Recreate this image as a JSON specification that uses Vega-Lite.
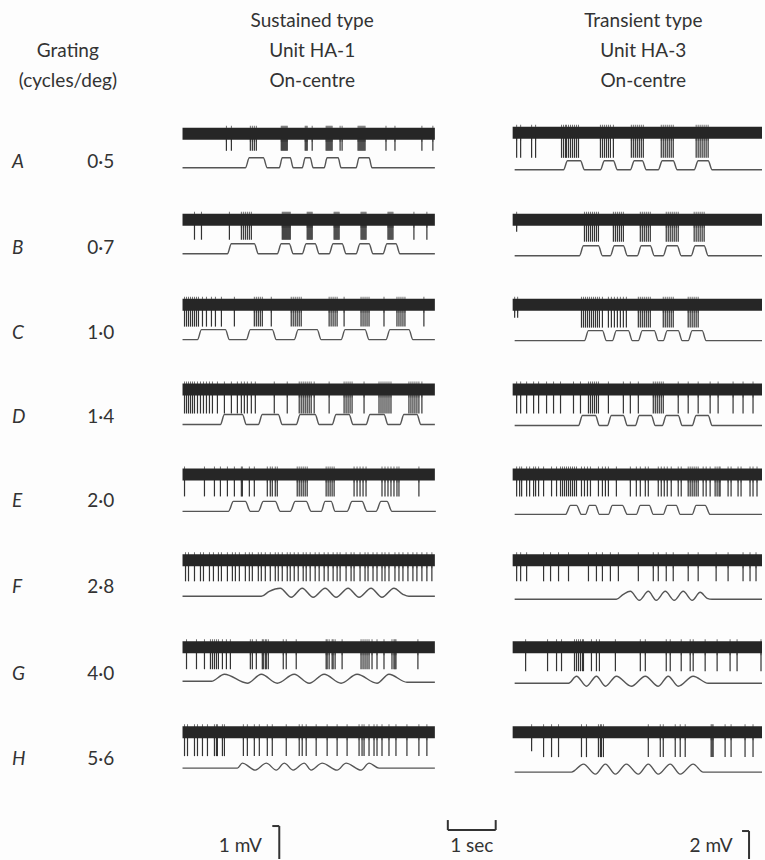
{
"$schema": "https://vega.github.io/schema/vega-lite/v6.json",
"width": 765, "height": 860,
"autosize": {"type": "fit", "contains": "padding"},
"padding": 0,
"background": "#fdfdfd",
"config": {"view": {"stroke": null}},
"datasets": {
"bands": [
{"x":183,"x2":436,"y":128,"y2":140},{"x":514,"x2":764,"y":127,"y2":139},
{"x":183,"x2":436,"y":214,"y2":226},{"x":514,"x2":764,"y":214,"y2":226},
{"x":183,"x2":436,"y":299,"y2":311},{"x":514,"x2":764,"y":299,"y2":311},
{"x":183,"x2":436,"y":384,"y2":396},{"x":514,"x2":764,"y":384,"y2":396},
{"x":183,"x2":436,"y":469,"y2":481},{"x":514,"x2":764,"y":469,"y2":481},
{"x":183,"x2":436,"y":555,"y2":567},{"x":514,"x2":764,"y":555,"y2":567},
{"x":183,"x2":436,"y":642,"y2":654},{"x":514,"x2":764,"y":642,"y2":654},
{"x":183,"x2":436,"y":727,"y2":739},{"x":514,"x2":764,"y":727,"y2":739}
],
"spikes": [
{"x":227,"y":134,"t":151},{"x":232,"y":134,"t":151},{"x":251,"y":134,"t":151},{"x":253,"y":134,"t":151},{"x":255,"y":134,"t":151},{"x":257,"y":134,"t":151},{"x":282,"y":134,"t":151},{"x":283,"y":134,"t":151},{"x":284,"y":134,"t":151},{"x":285,"y":134,"t":151},{"x":286,"y":134,"t":151},{"x":287,"y":134,"t":151},{"x":288,"y":134,"t":151},{"x":306,"y":134,"t":151},{"x":307,"y":134,"t":151},{"x":308,"y":134,"t":151},{"x":313,"y":134,"t":151},{"x":327,"y":134,"t":151},{"x":328,"y":134,"t":151},{"x":329,"y":134,"t":151},{"x":330,"y":134,"t":151},{"x":331,"y":134,"t":151},{"x":332,"y":134,"t":151},{"x":333,"y":134,"t":151},{"x":341,"y":134,"t":151},{"x":343,"y":134,"t":151},{"x":359,"y":134,"t":151},{"x":360,"y":134,"t":151},{"x":361,"y":134,"t":151},{"x":362,"y":134,"t":151},{"x":363,"y":134,"t":151},{"x":364,"y":134,"t":151},{"x":365,"y":134,"t":151},{"x":366,"y":134,"t":151},{"x":387,"y":134,"t":151},{"x":396,"y":134,"t":151},{"x":423,"y":134,"t":151},{"x":434,"y":134,"t":151},
{"x":518,"y":133,"t":158},{"x":522,"y":133,"t":158},{"x":533,"y":133,"t":158},{"x":537,"y":133,"t":158},{"x":563,"y":133,"t":158},{"x":565,"y":133,"t":158},{"x":567,"y":133,"t":158},{"x":568,"y":133,"t":158},{"x":570,"y":133,"t":158},{"x":572,"y":133,"t":158},{"x":574,"y":133,"t":158},{"x":576,"y":133,"t":158},{"x":578,"y":133,"t":158},{"x":580,"y":133,"t":158},{"x":602,"y":133,"t":158},{"x":604,"y":133,"t":158},{"x":606,"y":133,"t":158},{"x":608,"y":133,"t":158},{"x":610,"y":133,"t":158},{"x":612,"y":133,"t":158},{"x":615,"y":133,"t":158},{"x":633,"y":133,"t":158},{"x":635,"y":133,"t":158},{"x":637,"y":133,"t":158},{"x":639,"y":133,"t":158},{"x":641,"y":133,"t":158},{"x":643,"y":133,"t":158},{"x":645,"y":133,"t":158},{"x":663,"y":133,"t":158},{"x":665,"y":133,"t":158},{"x":667,"y":133,"t":158},{"x":669,"y":133,"t":158},{"x":671,"y":133,"t":158},{"x":673,"y":133,"t":158},{"x":675,"y":133,"t":158},{"x":698,"y":133,"t":158},{"x":700,"y":133,"t":158},{"x":702,"y":133,"t":158},{"x":704,"y":133,"t":158},{"x":706,"y":133,"t":158},{"x":708,"y":133,"t":158},{"x":710,"y":133,"t":158},
{"x":195,"y":220,"t":240},{"x":202,"y":220,"t":240},{"x":230,"y":220,"t":240},{"x":242,"y":220,"t":240},{"x":244,"y":220,"t":240},{"x":246,"y":220,"t":240},{"x":248,"y":220,"t":240},{"x":250,"y":220,"t":240},{"x":252,"y":220,"t":240},{"x":283,"y":220,"t":240},{"x":284,"y":220,"t":240},{"x":285,"y":220,"t":240},{"x":286,"y":220,"t":240},{"x":287,"y":220,"t":240},{"x":288,"y":220,"t":240},{"x":289,"y":220,"t":240},{"x":290,"y":220,"t":240},{"x":291,"y":220,"t":240},{"x":308,"y":220,"t":240},{"x":309,"y":220,"t":240},{"x":310,"y":220,"t":240},{"x":311,"y":220,"t":240},{"x":312,"y":220,"t":240},{"x":313,"y":220,"t":240},{"x":335,"y":220,"t":240},{"x":336,"y":220,"t":240},{"x":337,"y":220,"t":240},{"x":338,"y":220,"t":240},{"x":339,"y":220,"t":240},{"x":340,"y":220,"t":240},{"x":362,"y":220,"t":240},{"x":363,"y":220,"t":240},{"x":364,"y":220,"t":240},{"x":365,"y":220,"t":240},{"x":366,"y":220,"t":240},{"x":367,"y":220,"t":240},{"x":389,"y":220,"t":240},{"x":390,"y":220,"t":240},{"x":391,"y":220,"t":240},{"x":392,"y":220,"t":240},{"x":393,"y":220,"t":240},{"x":394,"y":220,"t":240},{"x":415,"y":220,"t":240},{"x":428,"y":220,"t":240},
{"x":518,"y":220,"t":232},{"x":586,"y":220,"t":242},{"x":588,"y":220,"t":242},{"x":590,"y":220,"t":242},{"x":592,"y":220,"t":242},{"x":594,"y":220,"t":242},{"x":596,"y":220,"t":242},{"x":598,"y":220,"t":242},{"x":600,"y":220,"t":242},{"x":615,"y":220,"t":242},{"x":617,"y":220,"t":242},{"x":619,"y":220,"t":242},{"x":621,"y":220,"t":242},{"x":623,"y":220,"t":242},{"x":625,"y":220,"t":242},{"x":642,"y":220,"t":242},{"x":644,"y":220,"t":242},{"x":646,"y":220,"t":242},{"x":648,"y":220,"t":242},{"x":650,"y":220,"t":242},{"x":652,"y":220,"t":242},{"x":668,"y":220,"t":242},{"x":670,"y":220,"t":242},{"x":672,"y":220,"t":242},{"x":674,"y":220,"t":242},{"x":676,"y":220,"t":242},{"x":678,"y":220,"t":242},{"x":680,"y":220,"t":242},{"x":696,"y":220,"t":242},{"x":698,"y":220,"t":242},{"x":700,"y":220,"t":242},{"x":702,"y":220,"t":242},{"x":704,"y":220,"t":242},{"x":706,"y":220,"t":242},
{"x":185,"y":305,"t":327},{"x":187,"y":305,"t":327},{"x":189,"y":305,"t":327},{"x":191,"y":305,"t":327},{"x":193,"y":305,"t":327},{"x":195,"y":305,"t":327},{"x":197,"y":305,"t":327},{"x":199,"y":305,"t":327},{"x":203,"y":305,"t":327},{"x":207,"y":305,"t":327},{"x":212,"y":305,"t":327},{"x":216,"y":305,"t":327},{"x":222,"y":305,"t":327},{"x":235,"y":305,"t":327},{"x":255,"y":305,"t":327},{"x":257,"y":305,"t":327},{"x":259,"y":305,"t":327},{"x":261,"y":305,"t":327},{"x":263,"y":305,"t":327},{"x":272,"y":305,"t":327},{"x":292,"y":305,"t":327},{"x":294,"y":305,"t":327},{"x":296,"y":305,"t":327},{"x":298,"y":305,"t":327},{"x":300,"y":305,"t":327},{"x":302,"y":305,"t":327},{"x":330,"y":305,"t":327},{"x":332,"y":305,"t":327},{"x":334,"y":305,"t":327},{"x":336,"y":305,"t":327},{"x":338,"y":305,"t":327},{"x":345,"y":305,"t":327},{"x":362,"y":305,"t":327},{"x":364,"y":305,"t":327},{"x":366,"y":305,"t":327},{"x":368,"y":305,"t":327},{"x":370,"y":305,"t":327},{"x":385,"y":305,"t":327},{"x":398,"y":305,"t":327},{"x":400,"y":305,"t":327},{"x":402,"y":305,"t":327},{"x":404,"y":305,"t":327},{"x":406,"y":305,"t":327},{"x":425,"y":305,"t":327},
{"x":516,"y":305,"t":318},{"x":519,"y":305,"t":318},{"x":583,"y":305,"t":328},{"x":585,"y":305,"t":328},{"x":587,"y":305,"t":328},{"x":589,"y":305,"t":328},{"x":591,"y":305,"t":328},{"x":593,"y":305,"t":328},{"x":595,"y":305,"t":328},{"x":597,"y":305,"t":328},{"x":599,"y":305,"t":328},{"x":601,"y":305,"t":328},{"x":604,"y":305,"t":328},{"x":610,"y":305,"t":328},{"x":613,"y":305,"t":328},{"x":616,"y":305,"t":328},{"x":619,"y":305,"t":328},{"x":622,"y":305,"t":328},{"x":625,"y":305,"t":328},{"x":628,"y":305,"t":328},{"x":640,"y":305,"t":328},{"x":642,"y":305,"t":328},{"x":644,"y":305,"t":328},{"x":646,"y":305,"t":328},{"x":648,"y":305,"t":328},{"x":650,"y":305,"t":328},{"x":652,"y":305,"t":328},{"x":665,"y":305,"t":328},{"x":667,"y":305,"t":328},{"x":669,"y":305,"t":328},{"x":671,"y":305,"t":328},{"x":673,"y":305,"t":328},{"x":675,"y":305,"t":328},{"x":690,"y":305,"t":328},{"x":692,"y":305,"t":328},{"x":694,"y":305,"t":328},{"x":696,"y":305,"t":328},{"x":698,"y":305,"t":328},{"x":700,"y":305,"t":328},
{"x":185,"y":390,"t":414},{"x":187,"y":390,"t":414},{"x":189,"y":390,"t":414},{"x":191,"y":390,"t":414},{"x":193,"y":390,"t":414},{"x":195,"y":390,"t":414},{"x":198,"y":390,"t":414},{"x":201,"y":390,"t":414},{"x":204,"y":390,"t":414},{"x":207,"y":390,"t":414},{"x":210,"y":390,"t":414},{"x":213,"y":390,"t":414},{"x":218,"y":390,"t":414},{"x":225,"y":390,"t":414},{"x":232,"y":390,"t":414},{"x":238,"y":390,"t":414},{"x":242,"y":390,"t":414},{"x":245,"y":390,"t":414},{"x":248,"y":390,"t":414},{"x":252,"y":390,"t":414},{"x":256,"y":390,"t":414},{"x":275,"y":390,"t":414},{"x":288,"y":390,"t":414},{"x":300,"y":390,"t":414},{"x":302,"y":390,"t":414},{"x":304,"y":390,"t":414},{"x":306,"y":390,"t":414},{"x":308,"y":390,"t":414},{"x":310,"y":390,"t":414},{"x":312,"y":390,"t":414},{"x":315,"y":390,"t":414},{"x":330,"y":390,"t":414},{"x":345,"y":390,"t":414},{"x":347,"y":390,"t":414},{"x":349,"y":390,"t":414},{"x":351,"y":390,"t":414},{"x":353,"y":390,"t":414},{"x":365,"y":390,"t":414},{"x":380,"y":390,"t":414},{"x":382,"y":390,"t":414},{"x":384,"y":390,"t":414},{"x":386,"y":390,"t":414},{"x":388,"y":390,"t":414},{"x":390,"y":390,"t":414},{"x":392,"y":390,"t":414},{"x":410,"y":390,"t":414},{"x":412,"y":390,"t":414},{"x":414,"y":390,"t":414},{"x":416,"y":390,"t":414},{"x":418,"y":390,"t":414},{"x":420,"y":390,"t":414},{"x":423,"y":390,"t":414},
{"x":518,"y":390,"t":414},{"x":522,"y":390,"t":414},{"x":528,"y":390,"t":414},{"x":535,"y":390,"t":414},{"x":540,"y":390,"t":414},{"x":548,"y":390,"t":414},{"x":555,"y":390,"t":414},{"x":562,"y":390,"t":414},{"x":575,"y":390,"t":414},{"x":582,"y":390,"t":414},{"x":590,"y":390,"t":414},{"x":592,"y":390,"t":414},{"x":594,"y":390,"t":414},{"x":596,"y":390,"t":414},{"x":598,"y":390,"t":414},{"x":600,"y":390,"t":414},{"x":610,"y":390,"t":414},{"x":625,"y":390,"t":414},{"x":632,"y":390,"t":414},{"x":640,"y":390,"t":414},{"x":655,"y":390,"t":414},{"x":657,"y":390,"t":414},{"x":659,"y":390,"t":414},{"x":661,"y":390,"t":414},{"x":663,"y":390,"t":414},{"x":665,"y":390,"t":414},{"x":680,"y":390,"t":414},{"x":690,"y":390,"t":414},{"x":700,"y":390,"t":414},{"x":712,"y":390,"t":414},{"x":720,"y":390,"t":414},{"x":735,"y":390,"t":414},{"x":745,"y":390,"t":414},{"x":755,"y":390,"t":414},
{"x":185,"y":475,"t":497},{"x":205,"y":475,"t":497},{"x":215,"y":475,"t":497},{"x":221,"y":475,"t":497},{"x":228,"y":475,"t":497},{"x":235,"y":475,"t":497},{"x":242,"y":475,"t":497},{"x":243,"y":475,"t":497},{"x":250,"y":475,"t":497},{"x":255,"y":475,"t":497},{"x":268,"y":475,"t":497},{"x":271,"y":475,"t":497},{"x":273,"y":475,"t":497},{"x":276,"y":475,"t":497},{"x":278,"y":475,"t":497},{"x":298,"y":475,"t":497},{"x":300,"y":475,"t":497},{"x":302,"y":475,"t":497},{"x":304,"y":475,"t":497},{"x":306,"y":475,"t":497},{"x":308,"y":475,"t":497},{"x":327,"y":475,"t":497},{"x":329,"y":475,"t":497},{"x":331,"y":475,"t":497},{"x":333,"y":475,"t":497},{"x":335,"y":475,"t":497},{"x":355,"y":475,"t":497},{"x":358,"y":475,"t":497},{"x":361,"y":475,"t":497},{"x":364,"y":475,"t":497},{"x":367,"y":475,"t":497},{"x":383,"y":475,"t":497},{"x":386,"y":475,"t":497},{"x":389,"y":475,"t":497},{"x":392,"y":475,"t":497},{"x":395,"y":475,"t":497},{"x":398,"y":475,"t":497},{"x":400,"y":475,"t":497},{"x":420,"y":475,"t":497},
{"x":518,"y":475,"t":497},{"x":521,"y":475,"t":497},{"x":523,"y":475,"t":497},{"x":528,"y":475,"t":497},{"x":531,"y":475,"t":497},{"x":535,"y":475,"t":497},{"x":537,"y":475,"t":497},{"x":540,"y":475,"t":497},{"x":545,"y":475,"t":497},{"x":553,"y":475,"t":497},{"x":558,"y":475,"t":497},{"x":562,"y":475,"t":497},{"x":564,"y":475,"t":497},{"x":566,"y":475,"t":497},{"x":568,"y":475,"t":497},{"x":570,"y":475,"t":497},{"x":572,"y":475,"t":497},{"x":574,"y":475,"t":497},{"x":576,"y":475,"t":497},{"x":578,"y":475,"t":497},{"x":583,"y":475,"t":497},{"x":586,"y":475,"t":497},{"x":589,"y":475,"t":497},{"x":592,"y":475,"t":497},{"x":600,"y":475,"t":497},{"x":604,"y":475,"t":497},{"x":607,"y":475,"t":497},{"x":610,"y":475,"t":497},{"x":618,"y":475,"t":497},{"x":632,"y":475,"t":497},{"x":638,"y":475,"t":497},{"x":642,"y":475,"t":497},{"x":647,"y":475,"t":497},{"x":650,"y":475,"t":497},{"x":660,"y":475,"t":497},{"x":663,"y":475,"t":497},{"x":666,"y":475,"t":497},{"x":669,"y":475,"t":497},{"x":673,"y":475,"t":497},{"x":680,"y":475,"t":497},{"x":683,"y":475,"t":497},{"x":690,"y":475,"t":497},{"x":692,"y":475,"t":497},{"x":694,"y":475,"t":497},{"x":696,"y":475,"t":497},{"x":698,"y":475,"t":497},{"x":700,"y":475,"t":497},{"x":705,"y":475,"t":497},{"x":708,"y":475,"t":497},{"x":712,"y":475,"t":497},{"x":717,"y":475,"t":497},{"x":719,"y":475,"t":497},{"x":721,"y":475,"t":497},{"x":722,"y":475,"t":497},{"x":730,"y":475,"t":497},{"x":733,"y":475,"t":497},{"x":740,"y":475,"t":497},{"x":743,"y":475,"t":497},{"x":752,"y":475,"t":497},{"x":755,"y":475,"t":497},{"x":759,"y":475,"t":497},
{"x":186,"y":561,"t":582},{"x":189,"y":561,"t":582},{"x":195,"y":561,"t":582},{"x":201,"y":561,"t":582},{"x":204,"y":561,"t":582},{"x":210,"y":561,"t":582},{"x":214,"y":561,"t":582},{"x":219,"y":561,"t":582},{"x":222,"y":561,"t":582},{"x":228,"y":561,"t":582},{"x":233,"y":561,"t":582},{"x":236,"y":561,"t":582},{"x":240,"y":561,"t":582},{"x":246,"y":561,"t":582},{"x":250,"y":561,"t":582},{"x":253,"y":561,"t":582},{"x":259,"y":561,"t":582},{"x":262,"y":561,"t":582},{"x":266,"y":561,"t":582},{"x":271,"y":561,"t":582},{"x":276,"y":561,"t":582},{"x":279,"y":561,"t":582},{"x":283,"y":561,"t":582},{"x":288,"y":561,"t":582},{"x":291,"y":561,"t":582},{"x":295,"y":561,"t":582},{"x":299,"y":561,"t":582},{"x":304,"y":561,"t":582},{"x":307,"y":561,"t":582},{"x":311,"y":561,"t":582},{"x":316,"y":561,"t":582},{"x":320,"y":561,"t":582},{"x":325,"y":561,"t":582},{"x":329,"y":561,"t":582},{"x":334,"y":561,"t":582},{"x":338,"y":561,"t":582},{"x":341,"y":561,"t":582},{"x":347,"y":561,"t":582},{"x":352,"y":561,"t":582},{"x":355,"y":561,"t":582},{"x":361,"y":561,"t":582},{"x":366,"y":561,"t":582},{"x":369,"y":561,"t":582},{"x":374,"y":561,"t":582},{"x":378,"y":561,"t":582},{"x":383,"y":561,"t":582},{"x":386,"y":561,"t":582},{"x":390,"y":561,"t":582},{"x":396,"y":561,"t":582},{"x":400,"y":561,"t":582},{"x":404,"y":561,"t":582},{"x":409,"y":561,"t":582},{"x":414,"y":561,"t":582},{"x":418,"y":561,"t":582},{"x":423,"y":561,"t":582},{"x":428,"y":561,"t":582},{"x":433,"y":561,"t":582},
{"x":518,"y":561,"t":582},{"x":522,"y":561,"t":582},{"x":528,"y":561,"t":582},{"x":545,"y":561,"t":582},{"x":552,"y":561,"t":582},{"x":560,"y":561,"t":582},{"x":570,"y":561,"t":582},{"x":590,"y":561,"t":582},{"x":598,"y":561,"t":582},{"x":604,"y":561,"t":582},{"x":612,"y":561,"t":582},{"x":620,"y":561,"t":582},{"x":640,"y":561,"t":582},{"x":655,"y":561,"t":582},{"x":660,"y":561,"t":582},{"x":668,"y":561,"t":582},{"x":675,"y":561,"t":582},{"x":690,"y":561,"t":582},{"x":700,"y":561,"t":582},{"x":718,"y":561,"t":582},{"x":730,"y":561,"t":582},{"x":745,"y":561,"t":582},{"x":752,"y":561,"t":582},{"x":758,"y":561,"t":582},
{"x":187,"y":648,"t":670},{"x":197,"y":648,"t":670},{"x":205,"y":648,"t":670},{"x":211,"y":648,"t":670},{"x":213,"y":648,"t":670},{"x":215,"y":648,"t":670},{"x":217,"y":648,"t":670},{"x":219,"y":648,"t":670},{"x":223,"y":648,"t":670},{"x":227,"y":648,"t":670},{"x":231,"y":648,"t":670},{"x":251,"y":648,"t":670},{"x":253,"y":648,"t":670},{"x":257,"y":648,"t":670},{"x":263,"y":648,"t":670},{"x":264,"y":648,"t":670},{"x":266,"y":648,"t":670},{"x":267,"y":648,"t":670},{"x":269,"y":648,"t":670},{"x":284,"y":648,"t":670},{"x":287,"y":648,"t":670},{"x":297,"y":648,"t":670},{"x":327,"y":648,"t":670},{"x":328,"y":648,"t":670},{"x":330,"y":648,"t":670},{"x":333,"y":648,"t":670},{"x":334,"y":648,"t":670},{"x":336,"y":648,"t":670},{"x":343,"y":648,"t":670},{"x":362,"y":648,"t":670},{"x":364,"y":648,"t":670},{"x":366,"y":648,"t":670},{"x":368,"y":648,"t":670},{"x":370,"y":648,"t":670},{"x":373,"y":648,"t":670},{"x":378,"y":648,"t":670},{"x":385,"y":648,"t":670},{"x":393,"y":648,"t":670},{"x":395,"y":648,"t":670},{"x":396,"y":648,"t":670},{"x":397,"y":648,"t":670},{"x":419,"y":648,"t":670},
{"x":527,"y":648,"t":672},{"x":549,"y":648,"t":672},{"x":558,"y":648,"t":672},{"x":563,"y":648,"t":672},{"x":576,"y":648,"t":672},{"x":578,"y":648,"t":672},{"x":580,"y":648,"t":672},{"x":582,"y":648,"t":672},{"x":584,"y":648,"t":672},{"x":585,"y":648,"t":672},{"x":593,"y":648,"t":672},{"x":598,"y":648,"t":672},{"x":601,"y":648,"t":672},{"x":617,"y":648,"t":672},{"x":642,"y":648,"t":672},{"x":647,"y":648,"t":672},{"x":668,"y":648,"t":672},{"x":672,"y":648,"t":672},{"x":683,"y":648,"t":672},{"x":692,"y":648,"t":672},{"x":695,"y":648,"t":672},{"x":707,"y":648,"t":672},{"x":719,"y":648,"t":672},{"x":732,"y":648,"t":672},{"x":739,"y":648,"t":672},{"x":763,"y":648,"t":672},
{"x":185,"y":733,"t":757},{"x":188,"y":733,"t":757},{"x":195,"y":733,"t":757},{"x":198,"y":733,"t":757},{"x":203,"y":733,"t":757},{"x":208,"y":733,"t":757},{"x":215,"y":733,"t":757},{"x":217,"y":733,"t":757},{"x":218,"y":733,"t":757},{"x":223,"y":733,"t":757},{"x":225,"y":733,"t":757},{"x":244,"y":733,"t":757},{"x":248,"y":733,"t":757},{"x":255,"y":733,"t":757},{"x":260,"y":733,"t":757},{"x":268,"y":733,"t":757},{"x":273,"y":733,"t":757},{"x":287,"y":733,"t":757},{"x":300,"y":733,"t":757},{"x":303,"y":733,"t":757},{"x":307,"y":733,"t":757},{"x":317,"y":733,"t":757},{"x":328,"y":733,"t":757},{"x":338,"y":733,"t":757},{"x":348,"y":733,"t":757},{"x":360,"y":733,"t":757},{"x":363,"y":733,"t":757},{"x":365,"y":733,"t":757},{"x":370,"y":733,"t":757},{"x":375,"y":733,"t":757},{"x":378,"y":733,"t":757},{"x":383,"y":733,"t":757},{"x":390,"y":733,"t":757},{"x":397,"y":733,"t":757},{"x":408,"y":733,"t":757},{"x":420,"y":733,"t":757},{"x":428,"y":733,"t":757},
{"x":533,"y":733,"t":752},{"x":545,"y":733,"t":758},{"x":553,"y":733,"t":758},{"x":560,"y":733,"t":758},{"x":583,"y":733,"t":758},{"x":588,"y":733,"t":758},{"x":600,"y":733,"t":758},{"x":602,"y":733,"t":758},{"x":603,"y":733,"t":758},{"x":605,"y":733,"t":758},{"x":650,"y":733,"t":758},{"x":662,"y":733,"t":758},{"x":665,"y":733,"t":758},{"x":677,"y":733,"t":758},{"x":682,"y":733,"t":758},{"x":687,"y":733,"t":758},{"x":713,"y":733,"t":758},{"x":714,"y":733,"t":758},{"x":715,"y":733,"t":758},{"x":727,"y":733,"t":758},{"x":733,"y":733,"t":758},{"x":747,"y":733,"t":758},{"x":755,"y":733,"t":758}
],
"stim": [
{"k":"AL","x":183,"y":168},{"k":"AL","x":246,"y":168},{"k":"AL","x":250,"y":158},{"k":"AL","x":264,"y":158},{"k":"AL","x":268,"y":168},{"k":"AL","x":280,"y":168},{"k":"AL","x":283,"y":158},{"k":"AL","x":291,"y":158},{"k":"AL","x":294,"y":168},{"k":"AL","x":303,"y":168},{"k":"AL","x":306,"y":158},{"k":"AL","x":311,"y":158},{"k":"AL","x":314,"y":168},{"k":"AL","x":325,"y":168},{"k":"AL","x":328,"y":158},{"k":"AL","x":339,"y":158},{"k":"AL","x":342,"y":168},{"k":"AL","x":357,"y":168},{"k":"AL","x":360,"y":158},{"k":"AL","x":370,"y":158},{"k":"AL","x":373,"y":168},{"k":"AL","x":436,"y":168},
{"k":"AR","x":516,"y":170},{"k":"AR","x":565,"y":170},{"k":"AR","x":569,"y":161},{"k":"AR","x":582,"y":161},{"k":"AR","x":586,"y":170},{"k":"AR","x":602,"y":170},{"k":"AR","x":606,"y":161},{"k":"AR","x":615,"y":161},{"k":"AR","x":619,"y":170},{"k":"AR","x":632,"y":170},{"k":"AR","x":636,"y":161},{"k":"AR","x":644,"y":161},{"k":"AR","x":648,"y":170},{"k":"AR","x":660,"y":170},{"k":"AR","x":664,"y":161},{"k":"AR","x":675,"y":161},{"k":"AR","x":679,"y":170},{"k":"AR","x":696,"y":170},{"k":"AR","x":700,"y":161},{"k":"AR","x":710,"y":161},{"k":"AR","x":714,"y":170},{"k":"AR","x":764,"y":170},
{"k":"BL","x":183,"y":254},{"k":"BL","x":228,"y":254},{"k":"BL","x":232,"y":244},{"k":"BL","x":255,"y":244},{"k":"BL","x":259,"y":254},{"k":"BL","x":278,"y":254},{"k":"BL","x":282,"y":244},{"k":"BL","x":290,"y":244},{"k":"BL","x":294,"y":254},{"k":"BL","x":303,"y":254},{"k":"BL","x":307,"y":244},{"k":"BL","x":316,"y":244},{"k":"BL","x":320,"y":254},{"k":"BL","x":330,"y":254},{"k":"BL","x":334,"y":244},{"k":"BL","x":343,"y":244},{"k":"BL","x":347,"y":254},{"k":"BL","x":357,"y":254},{"k":"BL","x":361,"y":244},{"k":"BL","x":370,"y":244},{"k":"BL","x":374,"y":254},{"k":"BL","x":384,"y":254},{"k":"BL","x":388,"y":244},{"k":"BL","x":397,"y":244},{"k":"BL","x":401,"y":254},{"k":"BL","x":436,"y":254},
{"k":"BR","x":516,"y":256},{"k":"BR","x":581,"y":256},{"k":"BR","x":585,"y":246},{"k":"BR","x":600,"y":246},{"k":"BR","x":604,"y":256},{"k":"BR","x":612,"y":256},{"k":"BR","x":616,"y":246},{"k":"BR","x":625,"y":246},{"k":"BR","x":629,"y":256},{"k":"BR","x":639,"y":256},{"k":"BR","x":643,"y":246},{"k":"BR","x":652,"y":246},{"k":"BR","x":656,"y":256},{"k":"BR","x":665,"y":256},{"k":"BR","x":669,"y":246},{"k":"BR","x":679,"y":246},{"k":"BR","x":683,"y":256},{"k":"BR","x":693,"y":256},{"k":"BR","x":697,"y":246},{"k":"BR","x":706,"y":246},{"k":"BR","x":710,"y":256},{"k":"BR","x":764,"y":256},
{"k":"CL","x":183,"y":340},{"k":"CL","x":198,"y":340},{"k":"CL","x":202,"y":330},{"k":"CL","x":226,"y":330},{"k":"CL","x":230,"y":340},{"k":"CL","x":247,"y":340},{"k":"CL","x":251,"y":330},{"k":"CL","x":273,"y":330},{"k":"CL","x":277,"y":340},{"k":"CL","x":295,"y":340},{"k":"CL","x":299,"y":330},{"k":"CL","x":318,"y":330},{"k":"CL","x":322,"y":340},{"k":"CL","x":342,"y":340},{"k":"CL","x":346,"y":330},{"k":"CL","x":366,"y":330},{"k":"CL","x":370,"y":340},{"k":"CL","x":387,"y":340},{"k":"CL","x":391,"y":330},{"k":"CL","x":410,"y":330},{"k":"CL","x":414,"y":340},{"k":"CL","x":436,"y":340},
{"k":"CR","x":516,"y":341},{"k":"CR","x":586,"y":341},{"k":"CR","x":590,"y":331},{"k":"CR","x":604,"y":331},{"k":"CR","x":608,"y":341},{"k":"CR","x":614,"y":341},{"k":"CR","x":618,"y":331},{"k":"CR","x":630,"y":331},{"k":"CR","x":634,"y":341},{"k":"CR","x":640,"y":341},{"k":"CR","x":644,"y":331},{"k":"CR","x":656,"y":331},{"k":"CR","x":660,"y":341},{"k":"CR","x":665,"y":341},{"k":"CR","x":669,"y":331},{"k":"CR","x":680,"y":331},{"k":"CR","x":684,"y":341},{"k":"CR","x":690,"y":341},{"k":"CR","x":694,"y":331},{"k":"CR","x":704,"y":331},{"k":"CR","x":708,"y":341},{"k":"CR","x":764,"y":341},
{"k":"DL","x":183,"y":425},{"k":"DL","x":221,"y":425},{"k":"DL","x":225,"y":415},{"k":"DL","x":243,"y":415},{"k":"DL","x":247,"y":425},{"k":"DL","x":259,"y":425},{"k":"DL","x":263,"y":415},{"k":"DL","x":279,"y":415},{"k":"DL","x":283,"y":425},{"k":"DL","x":297,"y":425},{"k":"DL","x":301,"y":415},{"k":"DL","x":316,"y":415},{"k":"DL","x":320,"y":425},{"k":"DL","x":333,"y":425},{"k":"DL","x":337,"y":415},{"k":"DL","x":350,"y":415},{"k":"DL","x":354,"y":425},{"k":"DL","x":367,"y":425},{"k":"DL","x":371,"y":415},{"k":"DL","x":385,"y":415},{"k":"DL","x":389,"y":425},{"k":"DL","x":401,"y":425},{"k":"DL","x":405,"y":415},{"k":"DL","x":418,"y":415},{"k":"DL","x":422,"y":425},{"k":"DL","x":436,"y":425},
{"k":"DR","x":516,"y":426},{"k":"DR","x":580,"y":426},{"k":"DR","x":584,"y":416},{"k":"DR","x":597,"y":416},{"k":"DR","x":601,"y":426},{"k":"DR","x":609,"y":426},{"k":"DR","x":613,"y":416},{"k":"DR","x":625,"y":416},{"k":"DR","x":629,"y":426},{"k":"DR","x":637,"y":426},{"k":"DR","x":641,"y":416},{"k":"DR","x":653,"y":416},{"k":"DR","x":657,"y":426},{"k":"DR","x":664,"y":426},{"k":"DR","x":668,"y":416},{"k":"DR","x":680,"y":416},{"k":"DR","x":684,"y":426},{"k":"DR","x":694,"y":426},{"k":"DR","x":698,"y":416},{"k":"DR","x":710,"y":416},{"k":"DR","x":714,"y":426},{"k":"DR","x":764,"y":426},
{"k":"EL","x":183,"y":512},{"k":"EL","x":229,"y":512},{"k":"EL","x":234,"y":502},{"k":"EL","x":246,"y":502},{"k":"EL","x":251,"y":512},{"k":"EL","x":259,"y":512},{"k":"EL","x":264,"y":502},{"k":"EL","x":276,"y":502},{"k":"EL","x":281,"y":512},{"k":"EL","x":291,"y":512},{"k":"EL","x":296,"y":502},{"k":"EL","x":307,"y":502},{"k":"EL","x":312,"y":512},{"k":"EL","x":322,"y":512},{"k":"EL","x":326,"y":502},{"k":"EL","x":332,"y":502},{"k":"EL","x":336,"y":512},{"k":"EL","x":348,"y":512},{"k":"EL","x":353,"y":502},{"k":"EL","x":363,"y":502},{"k":"EL","x":368,"y":512},{"k":"EL","x":377,"y":512},{"k":"EL","x":382,"y":502},{"k":"EL","x":388,"y":502},{"k":"EL","x":393,"y":512},{"k":"EL","x":437,"y":512},
{"k":"ER","x":516,"y":515},{"k":"ER","x":567,"y":515},{"k":"ER","x":572,"y":506},{"k":"ER","x":578,"y":506},{"k":"ER","x":583,"y":515},{"k":"ER","x":587,"y":515},{"k":"ER","x":591,"y":506},{"k":"ER","x":597,"y":506},{"k":"ER","x":601,"y":515},{"k":"ER","x":610,"y":515},{"k":"ER","x":614,"y":506},{"k":"ER","x":624,"y":506},{"k":"ER","x":629,"y":515},{"k":"ER","x":638,"y":515},{"k":"ER","x":642,"y":506},{"k":"ER","x":651,"y":506},{"k":"ER","x":655,"y":515},{"k":"ER","x":665,"y":515},{"k":"ER","x":669,"y":506},{"k":"ER","x":678,"y":506},{"k":"ER","x":682,"y":515},{"k":"ER","x":694,"y":515},{"k":"ER","x":698,"y":506},{"k":"ER","x":707,"y":506},{"k":"ER","x":712,"y":515},{"k":"ER","x":764,"y":515},
{"k":"FL","x":183,"y":597},{"k":"FL","x":262,"y":597},{"k":"FL","x":270,"y":592},{"k":"FL","x":281,"y":589},{"k":"FL","x":292,"y":598},{"k":"FL","x":303,"y":589},{"k":"FL","x":314,"y":598},{"k":"FL","x":326,"y":589},{"k":"FL","x":337,"y":598},{"k":"FL","x":349,"y":589},{"k":"FL","x":360,"y":598},{"k":"FL","x":372,"y":589},{"k":"FL","x":383,"y":598},{"k":"FL","x":395,"y":589},{"k":"FL","x":404,"y":595},{"k":"FL","x":410,"y":597},{"k":"FL","x":436,"y":597},
{"k":"FR","x":516,"y":600},{"k":"FR","x":618,"y":600},{"k":"FR","x":625,"y":595},{"k":"FR","x":632,"y":592},{"k":"FR","x":641,"y":601},{"k":"FR","x":650,"y":592},{"k":"FR","x":658,"y":601},{"k":"FR","x":667,"y":592},{"k":"FR","x":676,"y":601},{"k":"FR","x":685,"y":592},{"k":"FR","x":694,"y":601},{"k":"FR","x":702,"y":593},{"k":"FR","x":709,"y":599},{"k":"FR","x":714,"y":600},{"k":"FR","x":764,"y":600},
{"k":"GL","x":183,"y":682},{"k":"GL","x":212,"y":682},{"k":"GL","x":225,"y":675},{"k":"GL","x":248,"y":684},{"k":"GL","x":262,"y":675},{"k":"GL","x":278,"y":684},{"k":"GL","x":295,"y":675},{"k":"GL","x":310,"y":684},{"k":"GL","x":325,"y":675},{"k":"GL","x":342,"y":684},{"k":"GL","x":358,"y":675},{"k":"GL","x":378,"y":684},{"k":"GL","x":390,"y":675},{"k":"GL","x":408,"y":683},{"k":"GL","x":436,"y":683},
{"k":"GR","x":516,"y":684},{"k":"GR","x":570,"y":684},{"k":"GR","x":578,"y":677},{"k":"GR","x":588,"y":687},{"k":"GR","x":598,"y":677},{"k":"GR","x":607,"y":687},{"k":"GR","x":618,"y":677},{"k":"GR","x":633,"y":687},{"k":"GR","x":647,"y":677},{"k":"GR","x":660,"y":687},{"k":"GR","x":670,"y":677},{"k":"GR","x":680,"y":687},{"k":"GR","x":695,"y":677},{"k":"GR","x":710,"y":684},{"k":"GR","x":764,"y":684},
{"k":"HL","x":183,"y":769},{"k":"HL","x":238,"y":769},{"k":"HL","x":243,"y":764},{"k":"HL","x":256,"y":771},{"k":"HL","x":267,"y":764},{"k":"HL","x":277,"y":771},{"k":"HL","x":285,"y":764},{"k":"HL","x":294,"y":771},{"k":"HL","x":305,"y":764},{"k":"HL","x":312,"y":771},{"k":"HL","x":323,"y":764},{"k":"HL","x":338,"y":771},{"k":"HL","x":347,"y":764},{"k":"HL","x":362,"y":771},{"k":"HL","x":370,"y":764},{"k":"HL","x":380,"y":769},{"k":"HL","x":436,"y":769},
{"k":"HR","x":516,"y":773},{"k":"HR","x":573,"y":773},{"k":"HR","x":585,"y":765},{"k":"HR","x":597,"y":775},{"k":"HR","x":607,"y":765},{"k":"HR","x":617,"y":775},{"k":"HR","x":628,"y":765},{"k":"HR","x":640,"y":775},{"k":"HR","x":650,"y":765},{"k":"HR","x":660,"y":775},{"k":"HR","x":672,"y":765},{"k":"HR","x":682,"y":775},{"k":"HR","x":695,"y":765},{"k":"HR","x":705,"y":773},{"k":"HR","x":764,"y":773}
],
"texts": [
{"x":313,"y":21,"t":"Sustained type"},{"x":313,"y":51,"t":"Unit HA-1"},{"x":313,"y":81,"t":"On-centre"},
{"x":645,"y":21,"t":"Transient type"},{"x":645,"y":51,"t":"Unit HA-3"},{"x":645,"y":81,"t":"On-centre"},
{"x":68,"y":51,"t":"Grating"},{"x":68,"y":81,"t":"(cycles/deg)"},
{"x":101,"y":162,"t":"0·5"},{"x":101,"y":248,"t":"0·7"},{"x":101,"y":333,"t":"1·0"},{"x":101,"y":417,"t":"1·4"},{"x":101,"y":502,"t":"2·0"},{"x":101,"y":588,"t":"2·8"},{"x":101,"y":675,"t":"4·0"},{"x":101,"y":760,"t":"5·6"},
{"x":241,"y":847,"t":"1 mV"},{"x":473,"y":847,"t":"1 sec"},{"x":713,"y":847,"t":"2 mV"}
],
"letters": [
{"x":12,"y":162,"t":"A"},{"x":12,"y":248,"t":"B"},{"x":12,"y":333,"t":"C"},{"x":12,"y":417,"t":"D"},{"x":12,"y":502,"t":"E"},{"x":12,"y":588,"t":"F"},{"x":12,"y":675,"t":"G"},{"x":12,"y":760,"t":"H"}
],
"bars": [
{"x":449,"y":831,"x2":497,"y2":831},{"x":449,"y":821,"x2":449,"y2":831},{"x":497,"y":821,"x2":497,"y2":831},
{"x":273,"y":827,"x2":280,"y2":827},{"x":280,"y":827,"x2":280,"y2":860},
{"x":744,"y":832,"x2":751,"y2":832},{"x":751,"y":832,"x2":751,"y2":860}
]
},
"layer": [
{"data":{"name":"spikes"},"mark":{"type":"rule","strokeWidth":1.2,"color":"#333333"},
 "encoding":{"x":{"field":"x","type":"quantitative","scale":{"domain":[0,765],"nice":false,"zero":false},"axis":null},
 "y":{"field":"y","type":"quantitative","scale":{"domain":[0,860],"nice":false,"zero":false,"reverse":true},"axis":null},
 "y2":{"field":"t"}}},
{"data":{"name":"spikes"},"mark":{"type":"tick","orient":"vertical","size":16,"thickness":1,"color":"#333333"},
 "encoding":{"x":{"field":"x","type":"quantitative","scale":{"domain":[0,765],"nice":false,"zero":false},"axis":null},
 "y":{"field":"y","type":"quantitative","scale":{"domain":[0,860],"nice":false,"zero":false,"reverse":true},"axis":null}}},
{"data":{"name":"bands"},"mark":{"type":"rect","color":"#262626"},
 "encoding":{"x":{"field":"x","type":"quantitative","scale":{"domain":[0,765],"nice":false,"zero":false},"axis":null},"x2":{"field":"x2"},
 "y":{"field":"y","type":"quantitative","scale":{"domain":[0,860],"nice":false,"zero":false,"reverse":true},"axis":null},"y2":{"field":"y2"}}},
{"data":{"name":"stim"},"mark":{"type":"line","interpolate":"monotone","strokeWidth":1.4,"color":"#555555"},
 "encoding":{"x":{"field":"x","type":"quantitative","scale":{"domain":[0,765],"nice":false,"zero":false},"axis":null},
 "y":{"field":"y","type":"quantitative","scale":{"domain":[0,860],"nice":false,"zero":false,"reverse":true},"axis":null},
 "detail":{"field":"k","type":"nominal"}}},
{"data":{"name":"bars"},"mark":{"type":"rule","strokeWidth":2,"color":"#333333"},
 "encoding":{"x":{"field":"x","type":"quantitative","scale":{"domain":[0,765],"nice":false,"zero":false},"axis":null},"x2":{"field":"x2"},
 "y":{"field":"y","type":"quantitative","scale":{"domain":[0,860],"nice":false,"zero":false,"reverse":true},"axis":null},"y2":{"field":"y2"}}},
{"data":{"name":"texts"},"mark":{"type":"text","font":"Lato","fontSize":19,"color":"#333333","align":"center","baseline":"middle"},
 "encoding":{"x":{"field":"x","type":"quantitative","scale":{"domain":[0,765],"nice":false,"zero":false},"axis":null},
 "y":{"field":"y","type":"quantitative","scale":{"domain":[0,860],"nice":false,"zero":false,"reverse":true},"axis":null},
 "text":{"field":"t","type":"nominal"}}},
{"data":{"name":"letters"},"mark":{"type":"text","font":"Lato","fontSize":19,"fontStyle":"italic","color":"#333333","align":"left","baseline":"middle"},
 "encoding":{"x":{"field":"x","type":"quantitative","scale":{"domain":[0,765],"nice":false,"zero":false},"axis":null},
 "y":{"field":"y","type":"quantitative","scale":{"domain":[0,860],"nice":false,"zero":false,"reverse":true},"axis":null},
 "text":{"field":"t","type":"nominal"}}}
]
}
